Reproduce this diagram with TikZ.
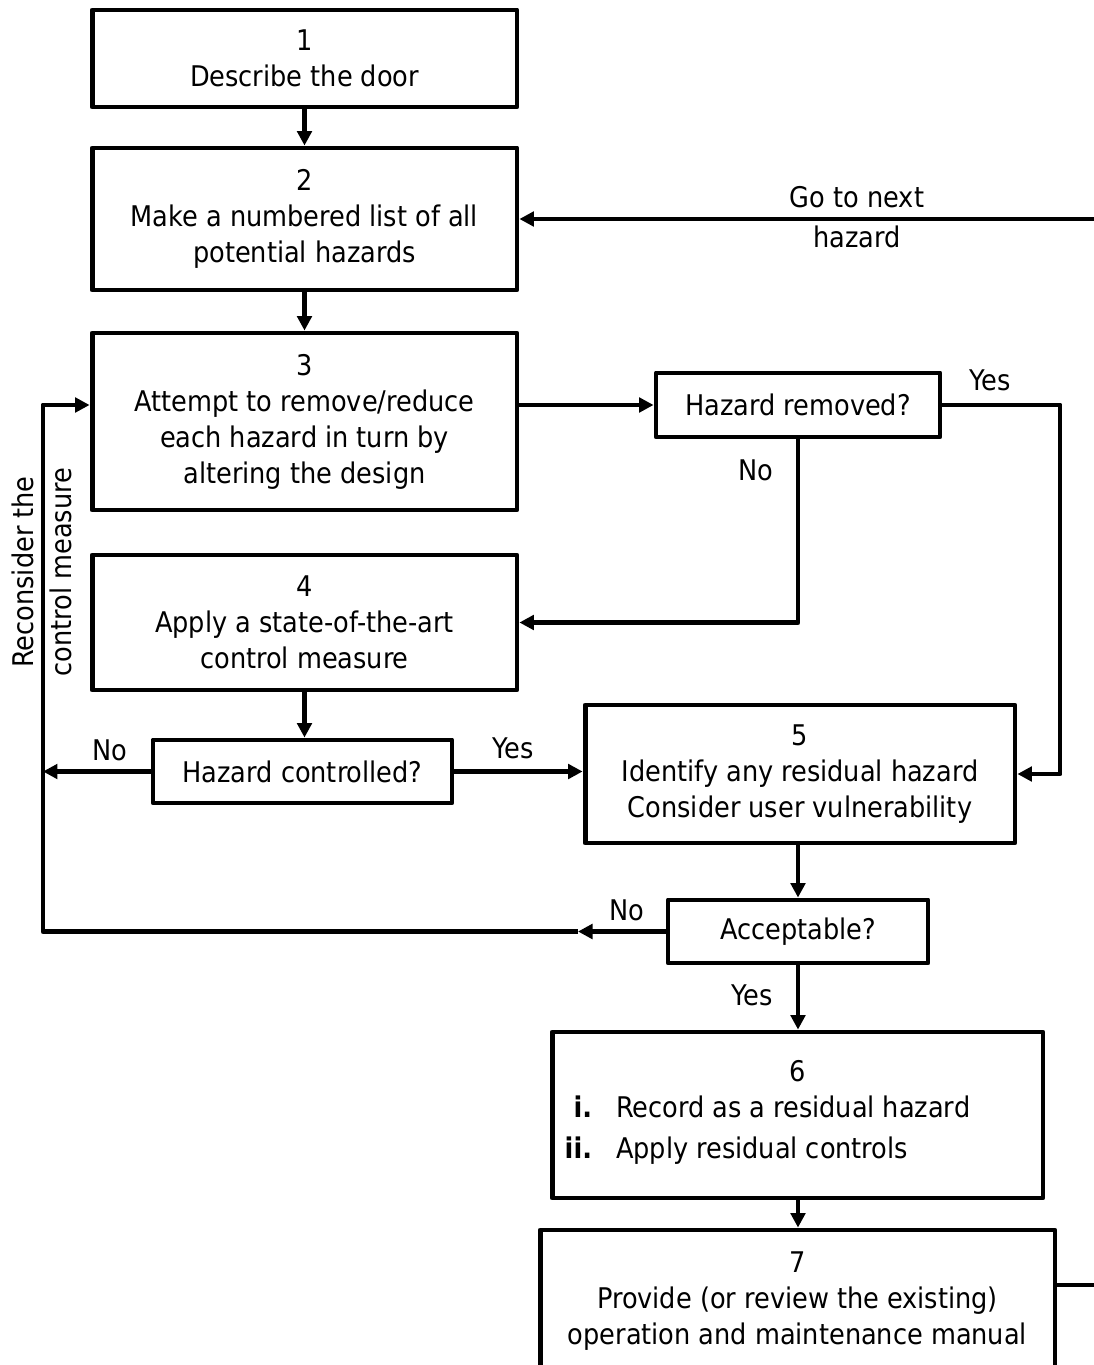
\documentclass[tikz,border=0pt]{standalone}
\usepackage{fontspec}
\setmainfont{DejaVu Sans Condensed}
\usetikzlibrary{arrows.meta}

\begin{document}
\begin{tikzpicture}
      [x=0.02cm, y=-0.02cm,
      every node/.style={font=\fontsize{16.2pt}{20.5pt}\selectfont},
      box/.style={draw=black, line width=2.8pt, line join=round, align=center, inner sep=0pt},
      lbl/.style={inner sep=0pt},
      arr/.style={-{Triangle[length=0.29cm, width=0.29cm]}, line width=2.8pt, line join=round}]
      \useasboundingbox (0,0) rectangle (1093,1365);
      \node (B1) at (304.5, 58.5) [box, minimum width=8.5cm, minimum height=1.94cm]
        {1\\Describe the door};
      \node (B2) at (304.5, 219) [box, minimum width=8.5cm, minimum height=2.84cm]
        {2\\Make a numbered list of all\\potential hazards};
      \node (B3) at (304.5, 421.5) [box, minimum width=8.5cm, minimum height=3.54cm]
        {3\\Attempt to remove/reduce\\each hazard in turn by\\altering the design};
      \node (HR) at (798, 405) [box, minimum width=5.68cm, minimum height=1.28cm]
        {Hazard removed?};
      \node (B4) at (304.5, 622.5) [box, minimum width=8.5cm, minimum height=2.7cm]
        {4\\Apply a state-of-the-art\\control measure};
      \node (HC) at (302.5, 771.5) [box, minimum width=5.98cm, minimum height=1.26cm]
        {Hazard controlled?};
      \node (B5) at (800, 774) [box, minimum width=8.6cm, minimum height=2.76cm]
        {5\\Identify any residual hazard\\Consider user vulnerability};
      \node (AC) at (798, 931.5) [box, minimum width=5.2cm, minimum height=1.26cm]
        {Acceptable?};
      \node (B6) at (797.5, 1115) [box, minimum width=9.82cm, minimum height=3.32cm]
        {6\\\hspace*{-1.2cm}\begin{tabular}[t]{@{}r@{\hspace{0.48cm}}l@{}}
        \textbf{i.} & Record as a residual hazard\\[3pt]
        \textbf{ii.} & Apply residual controls
        \end{tabular}};
      \node (B7) at (797.5, 1301) [box, minimum width=10.3cm, minimum height=2.84cm]
        {7\\Provide (or review the existing)\\operation and maintenance manual};

      % turning points of the loops
      \coordinate (yesR) at (1060, 405);
      \coordinate (back) at (43, 931.5);
      \coordinate (backM) at (578, 931.5);
      \coordinate (loopB) at (1115, 1285);
      \coordinate (loopR) at (1115, 219);

      \draw[arr] (B1.south) -- (B2.north);
      \draw[arr] (B2.south) -- (B3.north);
      \draw[arr] (B3.east |- HR.west) -- (HR.west);
      \draw[arr] (HR.east) -- (yesR) |- (B5.east);
      \draw[arr] (HR.south) |- (B4.east);
      \draw[arr] (B4.south) -- (B4.south |- HC.north);
      \draw[arr] (HC.west) -- (HC.west -| back);
      \draw[arr] (HC.east) -- (HC.east -| B5.west);
      \draw[arr] (B5.south -| AC.north) -- (AC.north);
      \draw[arr] (AC.west) -- (backM);
      \draw[arr] (backM) -- (back) |- (B3.west |- HR.west);
      \draw[arr] (AC.south) -- (AC.south |- B6.north);
      \draw[arr] (B6.south -| AC.south) -- (AC.south |- B7.north);
      \draw[arr] (B7.east |- loopB) -- (loopB) -- (loopR) -- (B2.east);

      \node (yes1) at (990, 380) [lbl] {Yes};
      \node (no1) at (756, 470) [lbl] {No};
      \node (no2) at (110, 750) [lbl] {No};
      \node (yes2) at (513, 748) [lbl] {Yes};
      \node (no3) at (627, 910) [lbl] {No};
      \node (yes3) at (752, 995) [lbl] {Yes};
      \node (next1) at (857, 197) [lbl] {Go to next};
      \node (next2) at (857, 237) [lbl] {hazard};
      \node (recon) at (42, 572) [lbl, rotate=90, align=center]
        {Reconsider the\\[1pt]control measure};
    \end{tikzpicture}
\end{document}
